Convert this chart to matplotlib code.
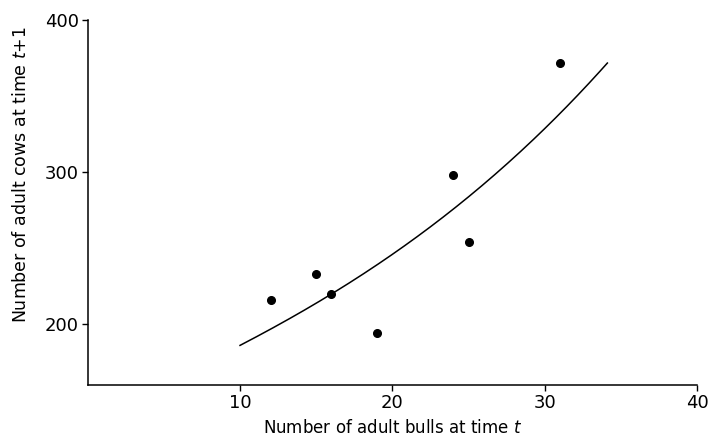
import matplotlib
matplotlib.use("Agg")
import matplotlib.pyplot as plt
import numpy as np

# Observed points
bulls = [12, 15, 16, 19, 24, 25, 31]
cows = [216, 233, 220, 194, 298, 254, 372]

# Fitted curve
curve_x = [10, 12.6, 16.0, 18.5, 20.5, 23.8, 27.1, 30.3, 32.5, 34.1]
curve_y = [186.4, 198.9, 219.8, 235.4, 250.4, 273.8, 301.2, 331.9, 353.7, 372.0]

x_ticks = [10, 20, 30, 40]
y_ticks = [200, 300, 400]
x_label = r"Number of adult bulls at time $t$"
y_label = r"Number of adult cows at time $t$+1"

plt.rcParams["font.family"] = ["DejaVu Sans"]
plt.rcParams["mathtext.fontset"] = "custom"
plt.rcParams["mathtext.it"] = "DejaVu Sans:italic"
plt.rcParams["mathtext.rm"] = "DejaVu Sans"

fig = plt.figure(figsize=(7.10, 4.37), dpi=100)
ax = fig.add_axes([0.1234, 0.1197, 0.9821 - 0.1234, 0.9542 - 0.1197])

# smooth rendering of the read-off curve
coef = np.polyfit(curve_x, curve_y, 3)
xs = np.linspace(curve_x[0], curve_x[-1], 200)
ax.plot(xs, np.polyval(coef, xs), color="black", lw=1.1)
ax.plot(bulls, cows, "o", color="black", ms=5.5, mec="black")

ax.set_xlim(0, 40)
ax.set_ylim(160, 400)
ax.set_xticks(x_ticks)
ax.set_yticks(y_ticks)
ax.spines["top"].set_visible(False)
ax.spines["right"].set_visible(False)
for s in ("left", "bottom"):
    ax.spines[s].set_linewidth(1.1)
ax.tick_params(direction="out", length=4.5, width=1.0, labelsize=13, pad=2)

ax.set_xlabel(x_label, fontsize=12)
ax.set_ylabel(y_label, fontsize=12.5)
ax.xaxis.set_label_coords(0.5, -0.095)
ax.yaxis.set_label_coords(-0.095, 0.575)

fig.savefig("out.png", dpi=100)
